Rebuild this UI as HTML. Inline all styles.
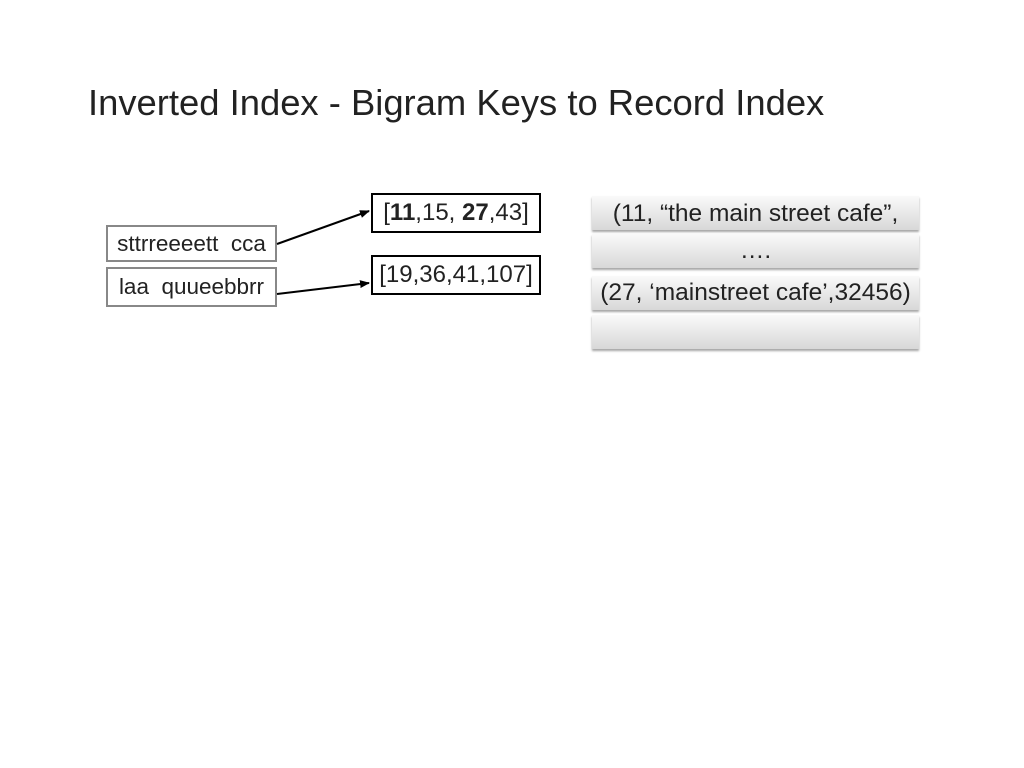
<!DOCTYPE html>
<html><head><style>
body{margin:0;width:1024px;height:768px;background:#fff;position:relative;font-family:"Liberation Sans",sans-serif;color:#222;overflow:hidden}
.t{position:absolute;left:88px;top:82px;font-size:36.4px;color:#222;white-space:nowrap}
.b{position:absolute;box-sizing:border-box;white-space:nowrap;text-align:center}
.g{border:2px solid #888;font-size:22.5px}
.k{border:2px solid #000;font-size:24px}
.r{position:absolute;left:592px;width:327px;box-sizing:border-box;background:linear-gradient(#fafafa,#d8d8d8);box-shadow:0 2px 2px rgba(0,0,0,.35);text-align:center;font-size:24.5px;white-space:nowrap}
</style></head><body>
<div class="t">Inverted Index - Bigram Keys to Record Index</div>
<div class="b g" style="left:106px;top:225px;width:171px;height:37px;line-height:33px">sttrreeeett&nbsp; cca</div>
<div class="b g" style="left:106px;top:267px;width:171px;height:40px;line-height:36px">laa&nbsp; quueebbrr</div>
<div class="b k" style="left:371px;top:193px;width:170px;height:40px;line-height:36px">[<b>11</b>,15, <b>27</b>,43]</div>
<div class="b k" style="left:371px;top:255px;width:170px;height:40px;line-height:36px">[19,36,41,107]</div>
<svg width="1024" height="768" style="position:absolute;left:0;top:0">
<defs><marker id="a" markerWidth="10" markerHeight="8" refX="9" refY="4" orient="auto" markerUnits="userSpaceOnUse"><path d="M0,0L10,4L0,8z" fill="#000"/></marker></defs>
<line x1="277" y1="244" x2="369" y2="211" stroke="#000" stroke-width="2" marker-end="url(#a)"/>
<line x1="277" y1="294" x2="369" y2="283" stroke="#000" stroke-width="2" marker-end="url(#a)"/>
</svg>
<div class="r" style="top:196px;height:34px;line-height:36px">(11, “the main street cafe”,</div>
<div class="r" style="top:234px;height:34px;line-height:34px">….</div>
<div class="r" style="top:276px;height:34px;line-height:34px">(27, ‘mainstreet cafe’,32456)</div>
<div class="r" style="top:315px;height:34px"></div>
</body></html>
